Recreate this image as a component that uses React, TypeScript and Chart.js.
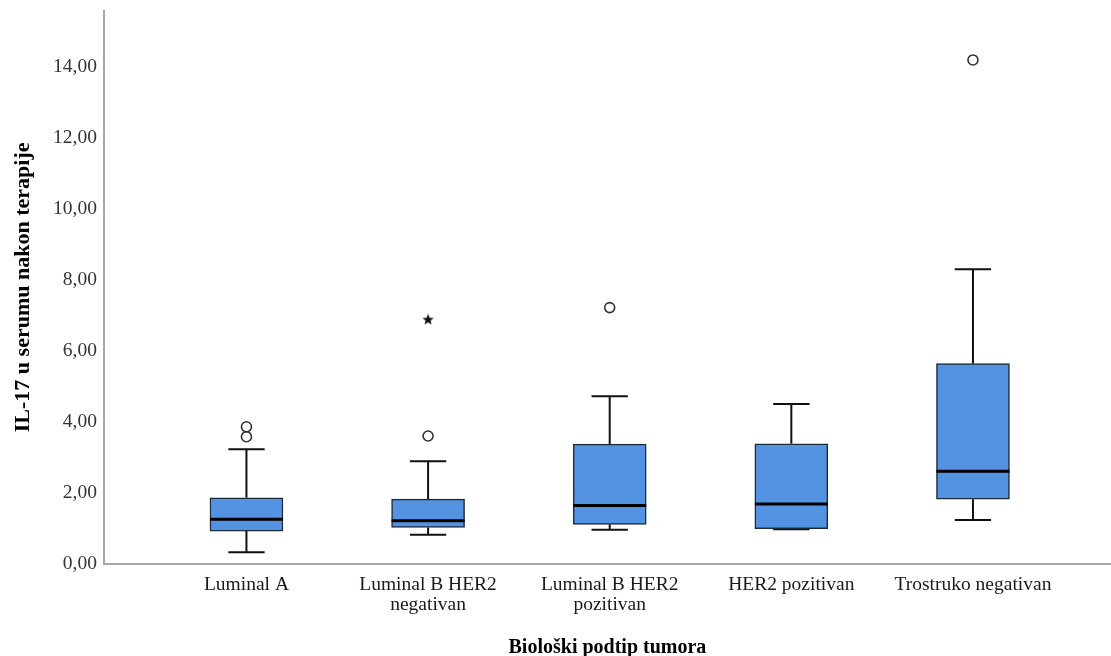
import React, { useEffect, useRef } from "react";
import { Chart, registerables } from "chart.js";

Chart.register(...registerables);

// ---- Data ----
const categories: string[][] = [
  ["Luminal A"],
  ["Luminal B HER2", "negativan"],
  ["Luminal B HER2", "pozitivan"],
  ["HER2 pozitivan"],
  ["Trostruko negativan"],
];
const whiskerLow = [0.32, 0.82, 0.96, 0.97, 1.23];
const q1 = [0.92, 1.02, 1.11, 0.99, 1.82];
const median = [1.25, 1.21, 1.64, 1.68, 2.61];
const q3 = [1.86, 1.82, 3.37, 3.38, 5.64];
const whiskerHigh = [3.23, 2.89, 4.72, 4.5, 8.3];
const outliers: number[][] = [[3.58, 3.86], [3.6], [7.22], [], [14.2]];
const extremes: number[][] = [[], [6.89], [], [], []];
const yTicks = [0, 2, 4, 6, 8, 10, 12, 14];

const yTitle = "IL-17 u serumu nakon terapije";
const xTitle = "Biološki podtip tumora";

const SERIF = "'Liberation Serif', 'Times New Roman', serif";

function makeStar(): HTMLCanvasElement {
  const c = document.createElement("canvas");
  const s = 14;
  c.width = s;
  c.height = s;
  const g = c.getContext("2d")!;
  g.fillStyle = "#111";
  g.beginPath();
  const cx = s / 2, cy = s / 2 + 0.5, ro = 6, ri = 2.6;
  for (let i = 0; i < 10; i++) {
    const r = i % 2 === 0 ? ro : ri;
    const a = -Math.PI / 2 + (i * Math.PI) / 5;
    const px = cx + r * Math.cos(a);
    const py = cy + r * Math.sin(a);
    if (i === 0) g.moveTo(px, py);
    else g.lineTo(px, py);
  }
  g.closePath();
  g.fill();
  return c;
}

const CAP_HALF = 0.1; // in category units

const boxPlugin = {
  id: "boxExtras",
  beforeDatasetsDraw(chart: any) {
    const { ctx, scales } = chart;
    const x = scales.x, y = scales.y;
    ctx.save();
    ctx.strokeStyle = "#111";
    ctx.lineWidth = 2;
    categories.forEach((_, i) => {
      const v = i + 1;
      const cx = x.getPixelForValue(v);
      const xl = x.getPixelForValue(v - CAP_HALF);
      const xr = x.getPixelForValue(v + CAP_HALF);
      const yh = y.getPixelForValue(whiskerHigh[i]);
      const yl = y.getPixelForValue(whiskerLow[i]);
      const y3 = y.getPixelForValue(q3[i]);
      const y1 = y.getPixelForValue(q1[i]);
      ctx.beginPath();
      ctx.moveTo(cx, y3);
      ctx.lineTo(cx, yh);
      ctx.moveTo(xl, yh);
      ctx.lineTo(xr, yh);
      ctx.moveTo(cx, y1);
      ctx.lineTo(cx, yl);
      ctx.moveTo(xl, yl);
      ctx.lineTo(xr, yl);
      ctx.stroke();
    });
    ctx.restore();
  },
  afterDatasetsDraw(chart: any) {
    const { ctx, scales } = chart;
    const y = scales.y;
    const meta = chart.getDatasetMeta(0);
    ctx.save();
    ctx.strokeStyle = "#000";
    ctx.lineWidth = 3;
    meta.data.forEach((bar: any, i: number) => {
      const ym = y.getPixelForValue(median[i]);
      ctx.beginPath();
      ctx.moveTo(bar.x - bar.width / 2, ym);
      ctx.lineTo(bar.x + bar.width / 2, ym);
      ctx.stroke();
    });
    ctx.restore();
  },
};

export default function App() {
  const ref = useRef<HTMLCanvasElement | null>(null);

  useEffect(() => {
    document.body.style.margin = "0";
    if (!ref.current) return;
    const star = makeStar();
    const boxData = categories.map((_, i) => ({ x: i + 1, y: [q1[i], q3[i]] }));
    const outData: { x: number; y: number }[] = [];
    outliers.forEach((arr, i) => arr.forEach((v) => outData.push({ x: i + 1, y: v })));
    const extData: { x: number; y: number }[] = [];
    extremes.forEach((arr, i) => arr.forEach((v) => extData.push({ x: i + 1, y: v })));

    const chart = new Chart(ref.current, {
      type: "bar",
      data: {
        datasets: [
          {
            type: "bar",
            data: boxData as any,
            backgroundColor: "#5493e1",
            borderColor: "#1d2a3a",
            borderWidth: 1.5,
            borderSkipped: false,
            barThickness: 73,
          } as any,
          {
            type: "scatter",
            data: outData,
            pointStyle: "circle",
            pointRadius: 5,
            pointBackgroundColor: "#fff",
            pointBorderColor: "#333",
            pointBorderWidth: 1.6,
          } as any,
          {
            type: "scatter",
            data: extData,
            pointStyle: star,
            pointRadius: 7,
          } as any,
        ],
      },
      options: {
        animation: false,
        responsive: true,
        maintainAspectRatio: false,
        layout: { autoPadding: false, padding: { top: 11, right: 0, left: 12, bottom: 0 } },
        plugins: { legend: { display: false }, tooltip: { enabled: false } },
        scales: {
          x: {
            type: "linear",
            min: 0.215,
            max: 5.76,
            offset: false,
            grid: { display: false, drawTicks: false },
            border: { display: true, color: "#a8a8a8", width: 2 },
            afterBuildTicks: (scale: any) => {
              scale.ticks = categories.map((_, i) => ({ value: i + 1 }));
            },
            afterFit: (scale: any) => {
              scale.paddingLeft = 0;
              scale.paddingRight = 0;
            },
            ticks: {
              autoSkip: false,
              maxRotation: 0,
              padding: 11,
              color: "#1a1a1a",
              font: { family: SERIF, size: 19.5, lineHeight: 1.02 },
              callback: (v: any) => categories[Math.round(Number(v)) - 1] || "",
            },
            title: {
              display: true,
              text: xTitle,
              color: "#000",
              font: { family: SERIF, size: 20, weight: "bold", lineHeight: 1.0 },
              padding: { top: 12.5, bottom: -2 },
            },
          } as any,
          y: {
            type: "linear",
            min: 0,
            max: 15.58,
            grid: { display: false, drawTicks: false },
            border: { display: true, color: "#a8a8a8", width: 2 },
            afterBuildTicks: (scale: any) => {
              scale.ticks = yTicks.map((v) => ({ value: v }));
            },
            afterFit: (scale: any) => {
              scale.paddingTop = 0;
              scale.paddingBottom = 0;
            },
            ticks: {
              padding: 7,
              color: "#333",
              font: { family: SERIF, size: 19.5 },
              callback: (v: any) => Number(v).toFixed(2).replace(".", ","),
            },
            title: {
              display: true,
              text: yTitle,
              color: "#000",
              font: { family: SERIF, size: 22, weight: "bold", lineHeight: 1.0 },
              padding: { top: 0, bottom: 12 },
            },
          } as any,
        },
      },
      plugins: [boxPlugin],
    });
    return () => chart.destroy();
  }, []);

  return (
    <div style={{ position: "relative", width: 1111, height: 656 }}>
      <canvas ref={ref} />
    </div>
  );
}
